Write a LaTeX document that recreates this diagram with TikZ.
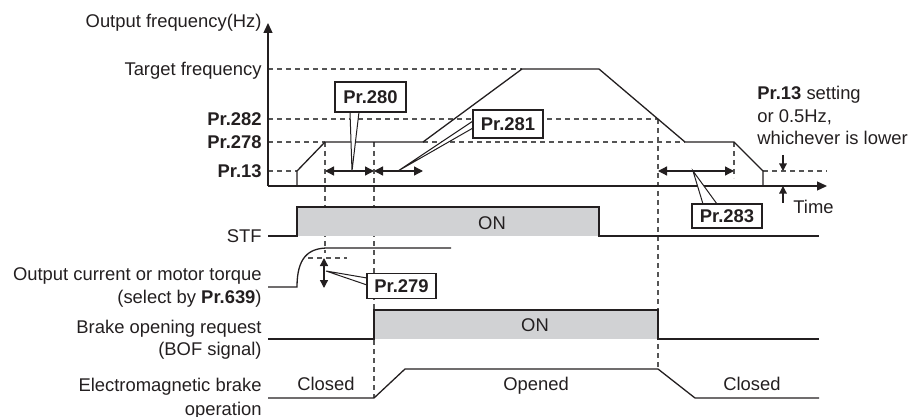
\documentclass[tikz,border=0pt]{standalone}
\usepackage{fontspec}
\setmainfont{Liberation Sans}
\usetikzlibrary{arrows.meta}
\definecolor{ink}{HTML}{231F20}
\definecolor{dashcol}{HTML}{555555}
\definecolor{onfill}{HTML}{D1D2D4}
\begin{document}
\begin{tikzpicture}[x=0.5pt,y=-0.5pt,
  every node/.style={font=\fontsize{9.2}{11}\selectfont, text=ink, inner sep=0pt},
  sig/.style={draw=ink, line width=0.65pt},
  guide/.style={draw=dashcol, line width=0.6pt, dash pattern=on 2.5pt off 2pt},
  lab/.style={text height=6.6pt, text depth=0pt},
  prbox/.style={draw=ink, fill=white, line width=0.7pt, font=\fontsize{9.2}{11}\selectfont\bfseries, text height=6.6pt, text depth=0pt},
  dimarr/.style={draw=ink, line width=0.65pt, {Triangle[length=4.5pt,width=4.5pt]}-{Triangle[length=4.5pt,width=4.5pt]}},
  wedge/.style={draw=ink, fill=white, line width=0.5pt, line join=miter}
]
\useasboundingbox (0,0) rectangle (911,417);

% ---------- key coordinates ----------
\coordinate (o) at (268,186);
\coordinate (ytip) at (268,23);
\coordinate (xtip) at (827,186);

% ---------- guides (dashed) ----------
\draw[guide] (268,69) -- (522,69);
\draw[guide] (268,119) -- (658,119);
\draw[guide] (268,142) -- (325,142);
\draw[guide] (423,142) -- (685,142);
\draw[guide] (268,171) -- (297,171);
\draw[guide] (763,171) -- (827,171);
\draw[guide] (325,142) -- (325,253);
\draw[guide] (374,142) -- (374,398);
\draw[guide] (658,119) -- (658,369);
\draw[guide] (734,142) -- (734,178);
\draw[guide] (308,258) -- (347,258);

% ---------- axes ----------
\draw[sig, -{Triangle[length=5pt,width=4.5pt]}] (o) -- (ytip);
\draw[sig, -{Triangle[length=5pt,width=4.5pt]}] (o) -- (xtip);

% ---------- output frequency ----------
\draw[sig, line join=miter] (268,186) -- (297,186) -- (297,171) -- (325,142) -- (423,142)
  -- (522,69) -- (599,69) -- (685,142) -- (734,142) -- (763,171) -- (763,186);

% ---------- dimension arrows ----------
\coordinate (d1a) at (325,171); \coordinate (d1b) at (374,171);
\coordinate (d2a) at (374,171); \coordinate (d2b) at (423,171);
\coordinate (d3a) at (658,171); \coordinate (d3b) at (734,171);
\draw[dimarr] (d1a) -- (d1b);
\draw[dimarr] (d2a) -- (d2b);
\draw[dimarr] (d3a) -- (d3b);

% small arrows (Pr.13 or 0.5Hz)
\coordinate (s1a) at (783,155); \coordinate (s1b) at (783,171);
\coordinate (s2a) at (783,203); \coordinate (s2b) at (783,186);
\draw[sig, -{Triangle[length=3.8pt,width=3.8pt]}] (s1a) -- (s1b);
\draw[sig, -{Triangle[length=3.8pt,width=3.8pt]}] (s2a) -- (s2b);

% ---------- STF ----------
\fill[onfill] (297,207) rectangle (599,236);
\draw[sig] (268,236) -- (297,236) -- (297,207) -- (599,207) -- (599,236) -- (819,236);
\node[lab] (stfon) at (492,223) {ON};

% ---------- output current ----------
\draw[sig] (268,287) -- (297,287) .. controls (297,258) and (308,248) .. (328,248) -- (451,248);
\coordinate (c1a) at (324,258); \coordinate (c1b) at (324,288);
\draw[draw=ink, line width=0.65pt, {Triangle[length=4pt,width=4pt]}-{Triangle[length=4pt,width=4pt]}] (c1a) -- (c1b);

% ---------- BOF ----------
\fill[onfill] (374,310) rectangle (658,339);
\draw[sig] (268,339) -- (374,339) -- (374,310) -- (658,310) -- (658,339) -- (819,339);
\node[lab] (bofon) at (535,325) {ON};

% ---------- brake ----------
\draw[sig] (268,398) -- (374,398) -- (405,369) -- (658,369) -- (695,398) -- (819,398);
\node[lab] (cl1) at (326,384) {Closed};
\node[lab] (op) at (536,384) {Opened};
\node[lab] (cl2) at (752,384) {Closed};

% ---------- callout wedges ----------
\coordinate (p280) at (352,171);
\coordinate (p281) at (398,171);
\coordinate (p279) at (326,271);
\coordinate (p283) at (693,171);
\filldraw[wedge] (350,112) -- (p280) -- (359,112);
\filldraw[wedge] (473,121) -- (p281) -- (473,128);
\filldraw[wedge] (367,278) -- (p279) -- (367,285);
\filldraw[wedge] (703,204) -- (p283) -- (717,204);

% ---------- parameter boxes ----------
\node[prbox, minimum width=35.5pt, minimum height=15pt] (b280) at (370.5,97) {Pr.280};
\node[prbox, minimum width=35pt, minimum height=14pt] (b281) at (508,124) {Pr.281};
\node[prbox, minimum width=34.5pt, minimum height=12.5pt] (b279) at (401.5,286) {Pr.279};
\node[prbox, minimum width=35pt, minimum height=12pt] (b283) at (727,216) {Pr.283};

% ---------- left labels ----------
\node[lab, anchor=east] (lof) at (262,21) {Output frequency(Hz)};
\node[lab, anchor=east] (ltf) at (262,69) {Target frequency};
\node[lab, anchor=east, font=\fontsize{9.2}{11}\selectfont\bfseries] (l282) at (262,119) {Pr.282};
\node[lab, anchor=east, font=\fontsize{9.2}{11}\selectfont\bfseries] (l278) at (262,142) {Pr.278};
\node[lab, anchor=east, font=\fontsize{9.2}{11}\selectfont\bfseries] (l13) at (262,171) {Pr.13};
\node[lab, anchor=east] (lstf) at (262,236) {STF};
\node[lab, anchor=east] (loc1) at (262,274) {Output current or motor torque};
\node[lab, anchor=east] (loc2) at (262,297) {(select by \textbf{Pr.639})};
\node[lab, anchor=east] (lbo1) at (262,327) {Brake opening request};
\node[lab, anchor=east] (lbo2) at (262,349) {(BOF signal)};
\node[lab, anchor=east] (lem1) at (262,385) {Electromagnetic brake};
\node[lab, anchor=east] (lem2) at (262,409) {operation};

% ---------- right labels ----------
\node[lab, anchor=west] (r1) at (757,93) {\textbf{Pr.13} setting};
\node[lab, anchor=west] (r2) at (757,116) {or 0.5Hz,};
\node[lab, anchor=west] (r3) at (757,138) {whichever is lower};
\node[lab, anchor=west] (rtime) at (793,207) {Time};
\end{tikzpicture}
\end{document}
